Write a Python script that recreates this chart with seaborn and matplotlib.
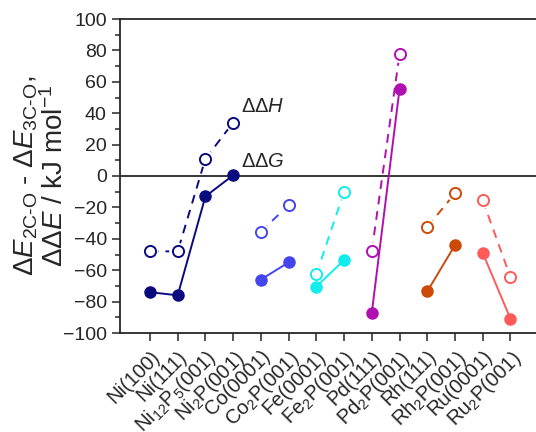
import numpy as np
import pandas as pd
import matplotlib
matplotlib.use('Agg')
import matplotlib.pyplot as plt
import matplotlib.transforms as mtransforms
import seaborn as sns
from matplotlib.ticker import MultipleLocator

# data (kJ/mol)
surfaces = ['Ni(100)', 'Ni(111)', 'Ni$_{12}$P$_5$(001)', 'Ni$_2$P(001)',
            'Co(0001)', 'Co$_2$P(001)', 'Fe(0001)', 'Fe$_2$P(001)',
            'Pd(111)', 'Pd$_2$P(001)', 'Rh(111)', 'Rh$_2$P(001)',
            'Ru(0001)', 'Ru$_2$P(001)']
groups = ['Ni', 'Ni', 'Ni', 'Ni', 'Co', 'Co', 'Fe', 'Fe',
          'Pd', 'Pd', 'Rh', 'Rh', 'Ru', 'Ru']
ddG = [-74, -76, -13, 0.5, -66, -55, -70.5, -53.5, -87, 55.5, -73.5, -44, -49, -91]
ddH = [-48, -48, 11, 34, -35.5, -18.5, -62.5, -10, -47.5, 77.5, -32.5, -11, -15.5, -64.5]

group_colors = {'Ni': '#0a0a80', 'Co': '#4545f0', 'Fe': '#12ecec',
                'Pd': '#b010b0', 'Rh': '#cc4a08', 'Ru': '#ff5a5a'}

df = pd.DataFrame({'surface': surfaces, 'group': groups, 'ddG': ddG, 'ddH': ddH})
df['pos'] = np.arange(len(df))

sns.set_style('ticks')
plt.rcParams['font.family'] = ['Liberation Sans', 'DejaVu Sans']
plt.rcParams['mathtext.fontset'] = 'custom'
plt.rcParams['mathtext.rm'] = 'Liberation Sans'
plt.rcParams['mathtext.it'] = 'Liberation Sans:italic'
plt.rcParams['mathtext.bf'] = 'Liberation Sans:bold'

fig = plt.figure(figsize=(5.36, 4.32), dpi=100)
ax = fig.add_axes([120 / 536, 1 - 333 / 432, 1 - 120 / 536, (333 - 19) / 432])

for g, sub in df.groupby('group', sort=False):
    c = group_colors[g]
    # enthalpy: dashed line, open circles with a small white gap around them
    sns.lineplot(data=sub, x='pos', y='ddH', ax=ax, color=c, lw=1.4,
                 linestyle=(0, (4.5, 3.5)), zorder=2)
    sns.scatterplot(data=sub, x='pos', y='ddH', ax=ax, color='white', s=150,
                    edgecolor='none', zorder=3)
    sns.scatterplot(data=sub, x='pos', y='ddH', ax=ax, color='white', s=64,
                    edgecolor=c, linewidth=1.4, zorder=4)
    # free energy: solid line, filled circles
    sns.lineplot(data=sub, x='pos', y='ddG', ax=ax, color=c, lw=1.4,
                 marker='o', markersize=8, markerfacecolor=c,
                 markeredgecolor=c, markeredgewidth=1.0, zorder=5)

ax.axhline(0, color='black', lw=1.1, zorder=1)

ax.set_xlim(-1.08, 13.92)
ax.set_ylim(-100, 100)
ax.set_xticks(df['pos'])
ax.set_xticklabels(df['surface'], rotation=45, ha='right', va='top',
                   rotation_mode='anchor', fontsize=14.5)
shift = mtransforms.ScaledTranslation(5 / 100, 0, fig.dpi_scale_trans)
for lab in ax.get_xticklabels():
    lab.set_transform(lab.get_transform() + shift)
ax.yaxis.set_major_locator(MultipleLocator(20))
ax.yaxis.set_minor_locator(MultipleLocator(10))
ax.tick_params(axis='y', which='major', labelsize=14, length=6, width=1.1)
ax.tick_params(axis='y', which='minor', length=3.5, width=1.1)
ax.tick_params(axis='x', which='major', length=6, width=1.1, pad=4)

ax.set_xlabel('')
ax.set_ylabel('Δ$\\mathit{E}_{\\mathrm{2C‐O}}$ - Δ$\\mathit{E}_{\\mathrm{3C‐O}}$,\n'
              'ΔΔ$\\mathit{E}$ / kJ mol$^{-1}$', fontsize=20, linespacing=1.05)
ax.yaxis.set_label_coords(-0.122, 0.5)

for side in ['left', 'bottom', 'top']:
    ax.spines[side].set_linewidth(1.3)
ax.spines['right'].set_visible(False)

ax.text(3.3, 44, 'ΔΔ$\\mathit{H}$', fontsize=14.5, va='center', ha='left')
ax.text(3.3, 9.5, 'ΔΔ$\\mathit{G}$', fontsize=14.5, va='center', ha='left')

fig.savefig('out.png', dpi=100)
